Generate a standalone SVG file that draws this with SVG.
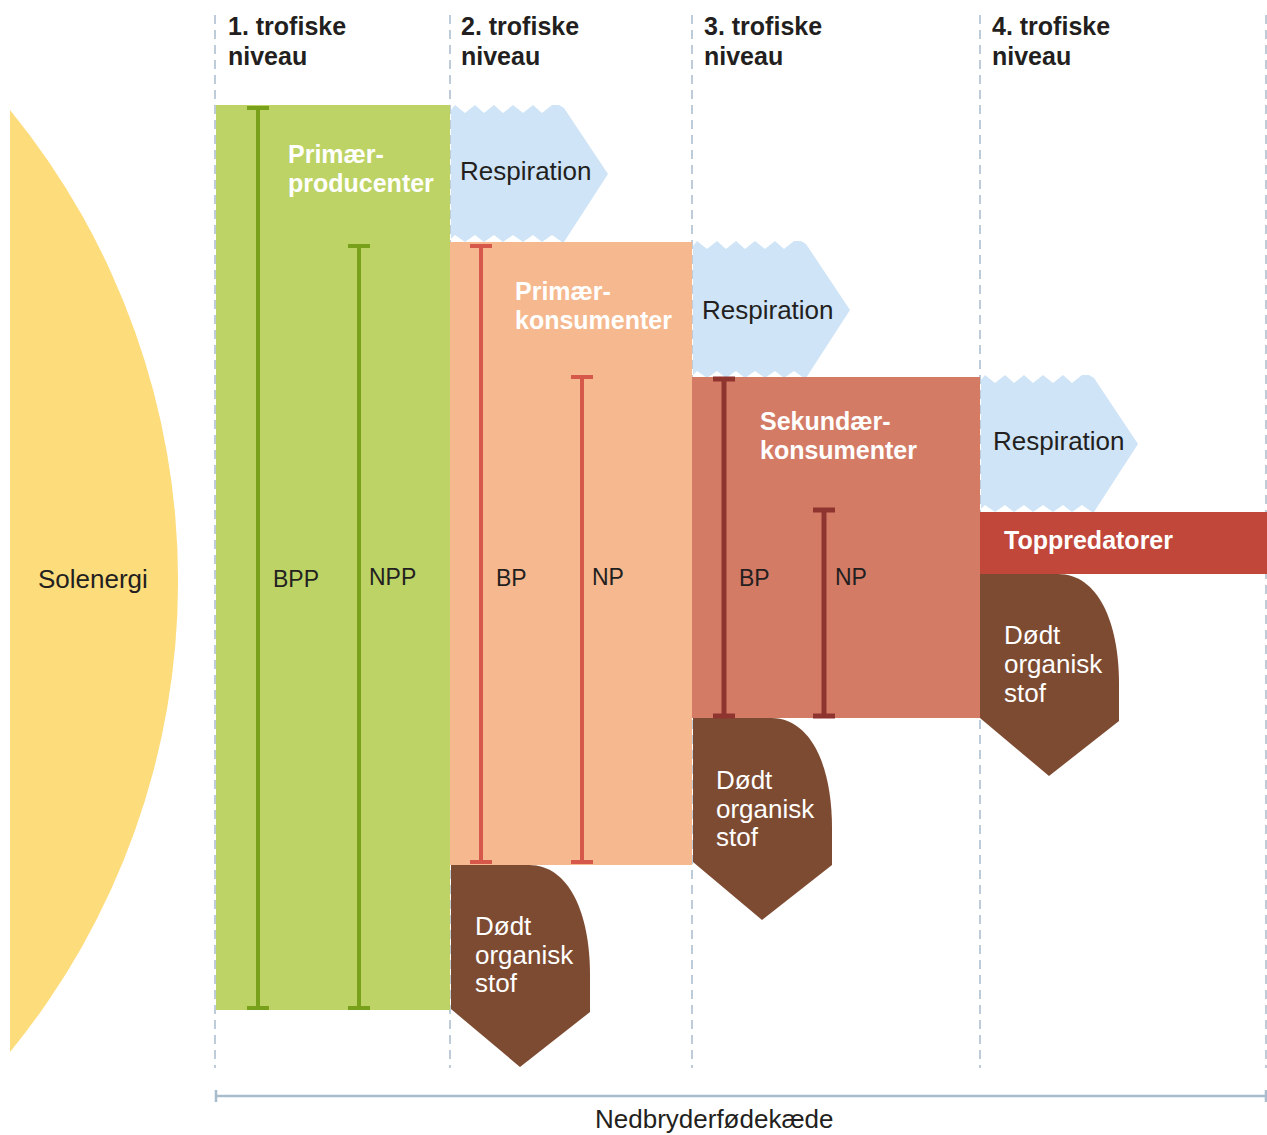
<svg xmlns="http://www.w3.org/2000/svg" width="1267" height="1135" viewBox="0 0 1267 1135">
<style>
text{font-family:"Liberation Sans",Arial,sans-serif;}
.hd{font-size:25px;font-weight:bold;fill:#231f20;}
.lb{font-size:26px;fill:#231f20;}
.wb{font-size:25px;font-weight:bold;fill:#ffffff;}
.wr{font-size:26px;fill:#ffffff;}
.bl{font-size:23px;fill:#231f20;}
.dash{stroke:#a9bccd;stroke-width:1.5;stroke-dasharray:9 6;fill:none;}
.resp{fill:#cfe4f6;}
.dead{fill:#7d4b31;}
.g{stroke:#78a01a;stroke-width:4;fill:none;}
.r{stroke:#d5584b;stroke-width:4;fill:none;}
.d{stroke:#8e3530;stroke-width:5;fill:none;}
</style>
<defs>
<path id="respShape" d="M0,5 L4,0 L14,8 L24,0 L33,8 L43,0 L52,8 L62,0 L72,8 L82,0 L91,8 L101,0 L108,0 L113,3 L157,69 L113,137 L111,137 L101,130 L91,137 L82,130 L72,137 L62,130 L52,137 L43,130 L33,137 L24,130 L14,137 L4,130 L0,134 Z"/>
<path id="deadShape" d="M0,0 L78,0 C118,0 139,48 139,110 L139,147 L69,202 L0,144 Z"/>
</defs>

<g id="gridlines">
<line class="dash" x1="215" y1="15" x2="215" y2="1068"/>
<line class="dash" x1="450" y1="15" x2="450" y2="1068"/>
<line class="dash" x1="692" y1="15" x2="692" y2="1068"/>
<line class="dash" x1="980" y1="15" x2="980" y2="1068"/>
<line class="dash" x1="1266" y1="15" x2="1266" y2="1068"/>
</g>

<g id="headers">
<text class="hd" x="228" y="35">1. trofiske</text><text class="hd" x="228" y="65">niveau</text>
<text class="hd" x="461" y="35">2. trofiske</text><text class="hd" x="461" y="65">niveau</text>
<text class="hd" x="704" y="35">3. trofiske</text><text class="hd" x="704" y="65">niveau</text>
<text class="hd" x="992" y="35">4. trofiske</text><text class="hd" x="992" y="65">niveau</text>
</g>

<g id="solenergi">
<path d="M10,110 A744,744 0 0 1 10,1052 Z" fill="#fddc7c"/>
<text class="lb" x="38" y="588">Solenergi</text>
</g>

<g id="respiration1">
<use href="#respShape" class="resp" transform="translate(451,105)"/>
<text class="lb" x="460" y="180">Respiration</text>
</g>
<g id="respiration2">
<use href="#respShape" class="resp" transform="translate(693,241)"/>
<text class="lb" x="702" y="319">Respiration</text>
</g>
<g id="respiration3">
<use href="#respShape" class="resp" transform="translate(981,375)"/>
<text class="lb" x="993" y="450">Respiration</text>
</g>

<g id="primaerproducenter">
<rect x="216" y="105" width="234" height="905" fill="#bdd365"/>
<text class="wb" x="288" y="163">Primær-</text>
<text class="wb" x="288" y="192">producenter</text>
</g>

<g id="primaerkonsumenter">
<rect x="450" y="242" width="242" height="623" fill="#f6b88e"/>
<text class="wb" x="515" y="300">Primær-</text>
<text class="wb" x="515" y="329">konsumenter</text>
</g>

<g id="sekundaerkonsumenter">
<rect x="692" y="377" width="288" height="341" fill="#d47b66"/>
<text class="wb" x="760" y="430">Sekundær-</text>
<text class="wb" x="760" y="459">konsumenter</text>
</g>

<g id="toppredatorer">
<rect x="980" y="512" width="287" height="62" fill="#c1473a"/>
<text class="wb" x="1004" y="549">Toppredatorer</text>
</g>

<g id="dead1">
<use href="#deadShape" class="dead" transform="translate(451,865)"/>
<text class="wr" x="475" y="935">Dødt</text><text class="wr" x="475" y="964">organisk</text><text class="wr" x="475" y="992">stof</text>
</g>
<g id="dead2">
<use href="#deadShape" class="dead" transform="translate(693,718)"/>
<text class="wr" x="716" y="789">Dødt</text><text class="wr" x="716" y="818">organisk</text><text class="wr" x="716" y="846">stof</text>
</g>
<g id="dead3">
<use href="#deadShape" class="dead" transform="translate(980,574)"/>
<text class="wr" x="1004" y="644">Dødt</text><text class="wr" x="1004" y="673">organisk</text><text class="wr" x="1004" y="702">stof</text>
</g>

<g id="connectors">
<path class="g" d="M258,108 V1008 M247,108 H269 M247,1008 H269"/>
<path class="g" d="M359,246 V1008 M348,246 H370 M348,1008 H370"/>
<path class="r" d="M481,246 V862 M470,246 H492 M470,862 H492"/>
<path class="r" d="M582,377 V862 M571,377 H593 M571,862 H593"/>
<path class="d" d="M724,379 V716 M713,379 H735 M713,716 H735"/>
<path class="d" d="M824,510 V716 M813,510 H835 M813,716 H835"/>
<path d="M216,1096 H1266 M216,1090 V1102 M1266,1090 V1102" stroke="#a9bccd" stroke-width="2.5" fill="none"/>
</g>

<g id="bar-labels">
<text class="bl" x="273" y="587">BPP</text>
<text class="bl" x="369" y="585">NPP</text>
<text class="bl" x="496" y="586">BP</text>
<text class="bl" x="592" y="585">NP</text>
<text class="bl" x="739" y="586">BP</text>
<text class="bl" x="835" y="585">NP</text>
</g>

<g id="nedbryder">
<text class="lb" x="595" y="1128">Nedbryderfødekæde</text>
</g>
</svg>
